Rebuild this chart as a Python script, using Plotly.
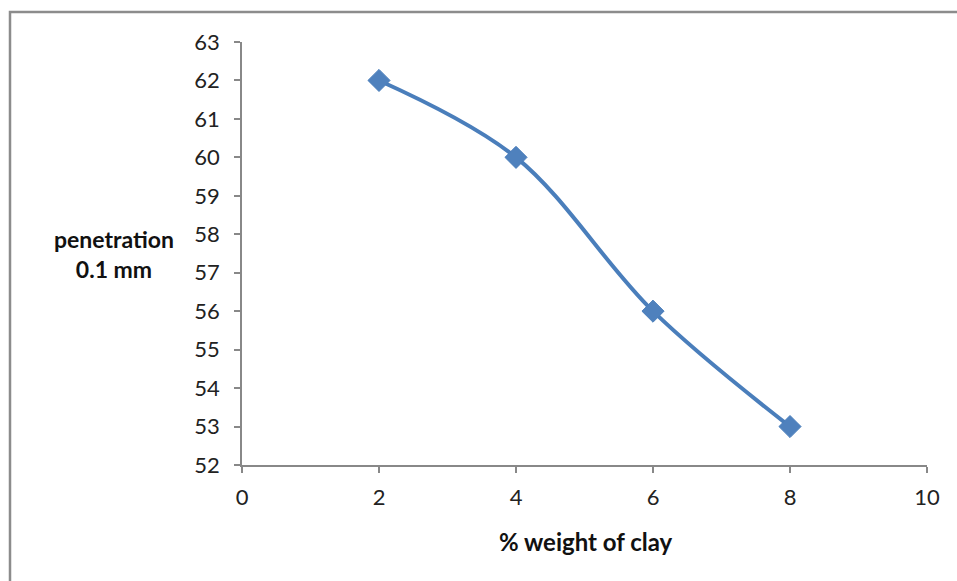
import plotly.graph_objects as go

clay_pct = [2, 4, 6, 8]
penetration = [62, 60, 56, 53]
x_ticks = [0, 2, 4, 6, 8, 10]
y_ticks = list(range(52, 64))

W, H = 957, 581
L, R, T, B = 242, 30, 42, 116
pw, ph = W - L - R, H - T - B

def px_x(p):
    return (p - L) / pw

def px_y(p):
    return (H - B - p) / ph

font_family = "Lato, 'Open Sans', sans-serif"

fig = go.Figure()
fig.add_trace(go.Scatter(
    x=clay_pct, y=penetration, mode="lines+markers",
    line=dict(color="#4A7EBB", width=4, shape="spline", smoothing=1.0),
    marker=dict(symbol="diamond", size=17, color="#4F81BD",
                line=dict(color="#4A7EBB", width=1)),
    showlegend=False,
))

axis_common = dict(
    showline=True, linecolor="#888888", linewidth=1.5,
    ticks="outside", ticklen=6, tickcolor="#888888", tickwidth=1.5,
    showgrid=False, zeroline=False,
    tickfont=dict(family=font_family, size=22, color="#222222"),
)

fig.update_layout(
    width=W, height=H,
    margin=dict(l=L, r=R, t=T, b=B),
    paper_bgcolor="white", plot_bgcolor="white",
    xaxis=dict(range=[0, 10], tickvals=x_ticks, ticktext=[str(v) for v in x_ticks],
               ticklabelstandoff=6, **axis_common),
    yaxis=dict(range=[52, 63], tickvals=y_ticks, ticktext=[str(v) for v in y_ticks],
               ticklabelstandoff=10, **axis_common),
    shapes=[dict(type="rect", xref="paper", yref="paper",
                 x0=px_x(10), x1=px_x(962), y0=px_y(590), y1=px_y(12),
                 line=dict(color="#8C8C8C", width=2.5), fillcolor="rgba(0,0,0,0)")],
    annotations=[
        dict(text="<b>% weight of clay</b>", xref="paper", yref="paper",
             x=px_x(586), y=px_y(541), showarrow=False,
             font=dict(family=font_family, size=24, color="#111111"),
             xanchor="center", yanchor="middle"),
        dict(text="<b>penetration</b><br><b>0.1 mm</b>", xref="paper", yref="paper",
             x=px_x(114), y=px_y(254), showarrow=False, align="center",
             font=dict(family=font_family, size=23, color="#111111"),
             xanchor="center", yanchor="middle"),
    ],
)

fig.write_html("out.html")
